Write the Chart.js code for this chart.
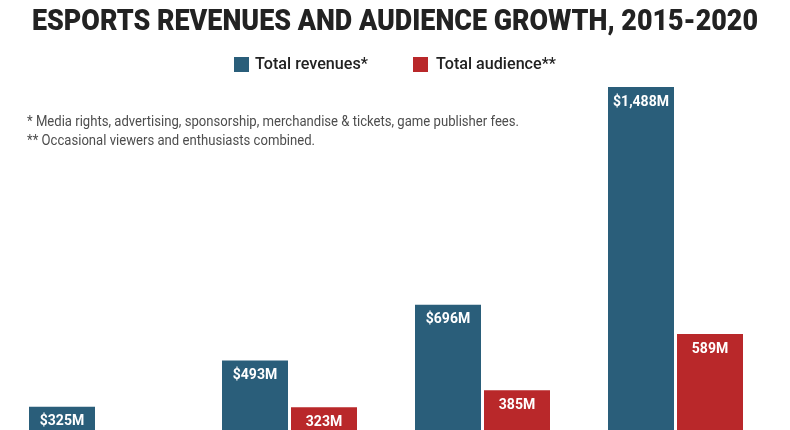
<!DOCTYPE html>
<html>
<head>
<meta charset="utf-8">
<script src="https://cdn.jsdelivr.net/npm/chart.js@4/dist/chart.umd.min.js"></script>
<style>
  html, body { margin: 0; padding: 0; background: #fff; }
</style>
</head>
<body>
<canvas id="chart" width="790" height="430"></canvas>
<script>
// data
var years = ['2015', '2016', '2017', '2020'];
var revenues = [325, 493, 696, 1488];
var audience = [235, 323, 385, 589];
var revenueLabels = ['$325M', '$493M', '$696M', '$1,488M'];
var audienceLabels = ['235M', '323M', '385M', '589M'];

var titleText = 'ESPORTS REVENUES AND AUDIENCE GROWTH, 2015-2020';
var notes = [
    '* Media rights, advertising, sponsorship, merchandise & tickets, game publisher fees.',
    '** Occasional viewers and enthusiasts combined.'
];

// colours
var blueColor = 'rgb(42, 94, 122)';
var redColor = 'rgb(185, 40, 42)';
var darkText = '#222222';
var greyText = '#4d4d4d';

// draws text squeezed horizontally to a given width (the original uses a condensed face)
function squeezeText(ctx, text, x, y, width, align) {
    var w = ctx.measureText(text).width;
    var s = Math.min(1, width / w);
    ctx.save();
    ctx.translate(x, y);
    ctx.scale(s, 1);
    ctx.textAlign = align;
    ctx.fillText(text, 0, 0);
    ctx.restore();
}

var headerPlugin = {
    id: 'header',
    afterDraw: function (chart) {
        var ctx = chart.ctx;
        ctx.save();
        ctx.textBaseline = 'middle';

        // title
        ctx.fillStyle = darkText;
        ctx.font = '900 29px Roboto';
        squeezeText(ctx, titleText, 395, 23, 726, 'center');

        // legend
        ctx.fillStyle = blueColor;
        ctx.fillRect(234, 57, 15, 15);
        ctx.fillStyle = redColor;
        ctx.fillRect(413, 57, 15, 15);
        ctx.fillStyle = darkText;
        ctx.font = '500 17px Roboto';
        squeezeText(ctx, 'Total revenues*', 255, 65, 113, 'left');
        squeezeText(ctx, 'Total audience**', 436, 65, 120, 'left');

        // footnotes
        ctx.fillStyle = greyText;
        ctx.font = '14px Roboto';
        squeezeText(ctx, notes[0], 27, 122, 492, 'left');
        squeezeText(ctx, notes[1], 27, 141, 288, 'left');
        ctx.restore();
    }
};

var valueLabelPlugin = {
    id: 'valueLabels',
    afterDatasetsDraw: function (chart) {
        var ctx = chart.ctx;
        var labelSets = [revenueLabels, audienceLabels];
        ctx.save();
        ctx.fillStyle = '#ffffff';
        ctx.font = 'bold 14px Roboto';
        ctx.textAlign = 'center';
        ctx.textBaseline = 'middle';
        chart.data.datasets.forEach(function (ds, d) {
            chart.getDatasetMeta(d).data.forEach(function (bar, i) {
                if (bar.y < chart.chartArea.bottom - 10) {
                    ctx.fillText(labelSets[d][i], bar.x, bar.y + 15);
                }
            });
        });
        ctx.restore();
    }
};

new Chart(document.getElementById('chart').getContext('2d'), {
    type: 'bar',
    data: {
        labels: years,
        datasets: [{
            label: 'Total revenues*',
            data: revenues,
            backgroundColor: blueColor,
            barPercentage: 0.9565,
            categoryPercentage: 0.715
        }, {
            label: 'Total audience**',
            data: audience,
            backgroundColor: redColor,
            barPercentage: 0.9565,
            categoryPercentage: 0.715
        }]
    },
    options: {
        responsive: false,
        animation: false,
        layout: {padding: {left: 0, right: 18, top: 0, bottom: 0}},
        plugins: {
            legend: {display: false},
            title: {display: false},
            tooltip: {enabled: false}
        },
        scales: {
            x: {display: false},
            y: {display: false, min: 240, max: 1805}
        }
    },
    plugins: [headerPlugin, valueLabelPlugin]
});
</script>
</body>
</html>
